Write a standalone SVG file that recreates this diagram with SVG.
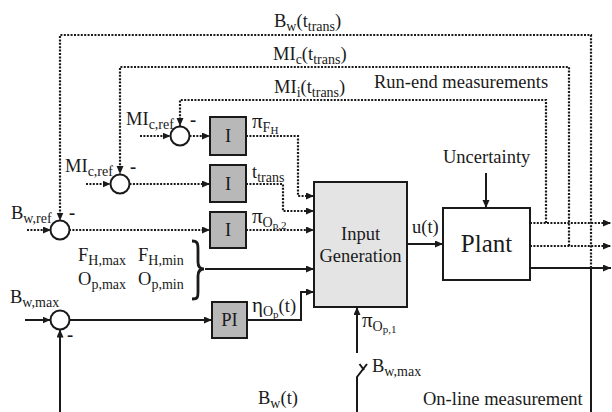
<svg xmlns="http://www.w3.org/2000/svg" width="612" height="412" viewBox="0 0 612 412">
<defs>
<marker id="ah" markerUnits="userSpaceOnUse" markerWidth="9" markerHeight="8" refX="8" refY="3.5" orient="auto">
<path d="M0,0 L8,3.5 L0,7 z" fill="#1a1a1a" stroke="none"/>
</marker>
</defs>
<style>
text{font-family:"Liberation Serif","Times New Roman",serif;fill:#1a1a1a;font-size:18.5px}
.sub{font-size:14px}
.ss{font-size:11px}
.gr{font-size:21px}
.c{text-anchor:middle}
.solid{fill:none;stroke:#1a1a1a;stroke-width:2}
.dot{fill:none;stroke:#1a1a1a;stroke-width:2.2;stroke-dasharray:2 1.4}
.sum{fill:#fff;stroke:#1a1a1a;stroke-width:2}
.ibox{fill:#b8b8b8;stroke:#1a1a1a;stroke-width:2}
.gbox{fill:#e4e4e4;stroke:#1a1a1a;stroke-width:2}
.wbox{fill:#fff;stroke:#1a1a1a;stroke-width:2}
</style>
<g id="connectors">
<path class="dot" d="M591,268 L591,35 L60,35 L60,220.5" marker-end="url(#ah)"/>
<path class="dot" d="M569,246 L569,67 L120,67 L120,174" marker-end="url(#ah)"/>
<path class="dot" d="M546,223 L546,100 L180,100 L180,126" marker-end="url(#ah)"/>
<path class="dot" d="M140,136 L170.5,136" marker-end="url(#ah)"/>
<path class="dot" d="M86,184 L110.5,184" marker-end="url(#ah)"/>
<path class="dot" d="M27,230 L51,230" marker-end="url(#ah)"/>
<path class="dot" d="M189.5,136 L210,136" marker-end="url(#ah)"/>
<path class="dot" d="M129.5,184 L210,184" marker-end="url(#ah)"/>
<path class="dot" d="M69,230 L210,230" marker-end="url(#ah)"/>
<path class="dot" d="M246,136 L298,136 L298,196 L314,196" marker-end="url(#ah)"/>
<path class="dot" d="M246,184 L283,184 L283,211 L314,211" marker-end="url(#ah)"/>
<path class="dot" d="M246,230 L314,230" marker-end="url(#ah)"/>
<path d="M192,241 C198,241 198,244 198,250 L198,262 C198,267 200,269 204,269 C200,269 198,271 198,276 L198,292 C198,297 198,299 192,299" fill="none" stroke="#1a1a1a" stroke-width="2.8"/>
<path class="solid" d="M205,269 L314,269" marker-end="url(#ah)"/>
<path class="solid" d="M25,320 L50.5,320" marker-end="url(#ah)"/>
<path class="solid" d="M69.5,320 L212,320" marker-end="url(#ah)"/>
<path class="solid" d="M247,320 L301,320 L301,292 L314,292" marker-end="url(#ah)"/>
<path class="solid" d="M60,412 L60,329.5" marker-end="url(#ah)"/>
<path class="solid" d="M357,412 L357,377 L367,364"/>
<path class="solid" d="M359.5,364 L364,370" stroke-width="1.6"/>
<path class="solid" d="M357,353 L357,307" marker-end="url(#ah)"/>
<path class="solid" d="M407,244 L443,244" marker-end="url(#ah)"/>
<path class="solid" d="M486,173 L486,208" marker-end="url(#ah)"/>
<path class="dot" d="M530,223 L611,223" marker-end="url(#ah)"/>
<path class="dot" d="M530,246 L611,246" marker-end="url(#ah)"/>
<path class="solid" d="M530,268 L611,268" marker-end="url(#ah)"/>
<path class="solid" d="M591,268 L591,412"/>
</g>
<g id="sum1"><circle class="sum" cx="180" cy="136" r="9.5"/><text x="126" y="125">MI<tspan class="sub" dy="4">c,ref</tspan></text><text x="190" y="126" font-weight="bold">-</text></g>
<g id="sum2"><circle class="sum" cx="120" cy="184" r="9.5"/><text x="65" y="172">MI<tspan class="sub" dy="4">c,ref</tspan></text><text x="130" y="173" font-weight="bold">-</text></g>
<g id="sum3"><circle class="sum" cx="60" cy="230" r="9.5"/><text x="11" y="219">B<tspan class="sub" dy="4">w,ref</tspan></text><text x="69" y="219" font-weight="bold">-</text></g>
<g id="sum4"><circle class="sum" cx="60" cy="320" r="9.5"/><text x="10" y="303">B<tspan class="sub" dy="4">w,max</tspan></text><text x="67" y="341" font-weight="bold">-</text></g>
<g id="I1"><rect class="ibox" x="210" y="117" width="36" height="38"/><text class="c" x="228" y="142">I</text></g>
<g id="I2"><rect class="ibox" x="210" y="165" width="36" height="37"/><text class="c" x="228" y="190">I</text></g>
<g id="I3"><rect class="ibox" x="210" y="212" width="36" height="36"/><text class="c" x="228" y="236">I</text></g>
<g id="PI"><rect class="ibox" x="212" y="302" width="35" height="36"/><text class="c" x="229.5" y="326">PI</text></g>
<g id="input-generation"><rect class="gbox" x="314" y="182" width="93" height="125"/><text class="c" x="360.5" y="240">Input</text><text class="c" x="360.5" y="262">Generation</text></g>
<g id="plant"><rect class="wbox" x="443" y="208" width="87" height="72"/><text class="c" x="486.5" y="252" style="font-size:25px">Plant</text></g>
<g id="labels">
<text x="274" y="27">B<tspan class="sub" dy="4">w</tspan><tspan dy="-4">(t</tspan><tspan class="sub" dy="4">trans</tspan><tspan dy="-4">)</tspan></text>
<text x="273" y="60">MI<tspan class="sub" dy="4">c</tspan><tspan dy="-4">(t</tspan><tspan class="sub" dy="4">trans</tspan><tspan dy="-4">)</tspan></text>
<text x="274" y="93">MI<tspan class="sub" dy="4">i</tspan><tspan dy="-4">(t</tspan><tspan class="sub" dy="4">trans</tspan><tspan dy="-4">)</tspan></text>
<text x="374" y="88">Run-end measurements</text>
<text x="443" y="163">Uncertainty</text>
<text x="252" y="128"><tspan class="gr">π</tspan><tspan class="sub" dy="4">F</tspan><tspan class="ss" dy="2">H</tspan></text>
<text x="252" y="178">t<tspan class="sub" dy="4">trans</tspan></text>
<text x="252" y="223"><tspan class="gr">π</tspan><tspan class="sub" dy="4">O</tspan><tspan class="ss" dy="2">p,2</tspan></text>
<text x="78" y="261">F<tspan class="sub" dy="4">H,max</tspan></text>
<text x="138" y="261">F<tspan class="sub" dy="4">H,min</tspan></text>
<text x="78" y="285">O<tspan class="sub" dy="4">p,max</tspan></text>
<text x="138" y="285">O<tspan class="sub" dy="4">p,min</tspan></text>
<text x="412" y="233">u(t)</text>
<text x="252" y="312"><tspan class="gr">η</tspan><tspan class="sub" dy="4">O</tspan><tspan class="ss" dy="2">p</tspan><tspan dy="-6">(t)</tspan></text>
<text x="362" y="327"><tspan class="gr">π</tspan><tspan class="sub" dy="4">O</tspan><tspan class="ss" dy="2">p,1</tspan></text>
<text x="372" y="372">B<tspan class="sub" dy="4">w,max</tspan></text>
<text x="258" y="404">B<tspan class="sub" dy="4">w</tspan><tspan dy="-4">(t)</tspan></text>
<text x="423" y="405">On-line measurement</text>
</g>
</svg>
